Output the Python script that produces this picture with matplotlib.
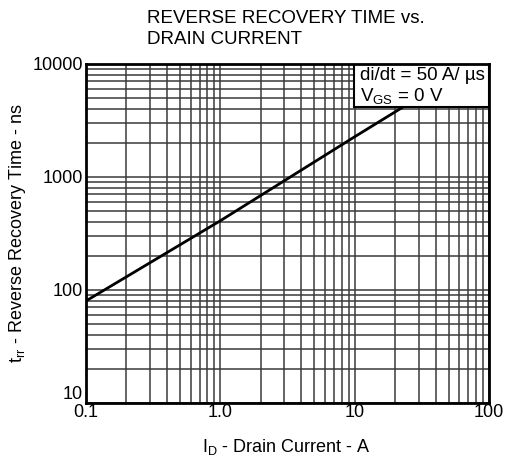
import numpy as np
import matplotlib
matplotlib.use("Agg")
import matplotlib.pyplot as plt
import matplotlib.transforms as mtransforms
from matplotlib.patches import Rectangle
from matplotlib.ticker import FixedLocator, NullFormatter

plt.rcParams['font.family'] = ['Liberation Sans', 'DejaVu Sans']
plt.rcParams['mathtext.fontset'] = 'custom'
plt.rcParams['mathtext.rm'] = 'Liberation Sans'

# data
drain_current = [0.1, 1.0, 10, 23]
trr_ns = [80, 410, 2270, 4170]

x_ticks = [0.1, 1.0, 10, 100]
x_labels = ['0.1', '1.0', '10', '100']
y_ticks = [10, 100, 1000, 10000]
y_labels = ['10', '100', '1000', '10000']

fig = plt.figure(figsize=(5.07, 4.63), dpi=100)
ax = fig.add_axes([0.1696, 0.1296, 0.7949, 0.7322])

ax.set_xscale('log')
ax.set_yscale('log')
ax.set_xlim(0.1, 100)
ax.set_ylim(10, 10000)

ax.set_xticks(x_ticks)
ax.set_xticklabels(x_labels)
ax.set_yticks(y_ticks)
ax.set_yticklabels(y_labels)
minors_x = [m * 10.0 ** e for e in range(-1, 2) for m in range(2, 10)]
minors_y = [m * 10.0 ** e for e in range(1, 4) for m in range(2, 10)]
ax.xaxis.set_minor_locator(FixedLocator(minors_x))
ax.yaxis.set_minor_locator(FixedLocator(minors_y))
ax.xaxis.set_minor_formatter(NullFormatter())
ax.yaxis.set_minor_formatter(NullFormatter())
ax.tick_params(which='both', length=0, labelsize=13, pad=2)
ax.tick_params(axis='x', pad=1)

# the bottom "10" sits raised above the corner, clear of "0.1"
shift = mtransforms.ScaledTranslation(0, 10 / 100, fig.dpi_scale_trans)
lbl10 = ax.get_yticklabels()[0]
lbl10.set_transform(lbl10.get_transform() + shift)

ax.grid(True, which='both', color='#3a3a3a', linewidth=1.1)
for s in ax.spines.values():
    s.set_linewidth(2)
    s.set_zorder(5)

ax.plot(drain_current, trr_ns, color='black', linewidth=2, zorder=3)

ax.add_patch(Rectangle((0.665, 0.873), 0.335, 0.127, transform=ax.transAxes,
                       facecolor='white', edgecolor='black', linewidth=1.5, zorder=4))
ax.text(0.68, 0.965, 'di/dt = 50 A/ \u00b5s', transform=ax.transAxes,
        fontsize=13.5, va='center', ha='left', zorder=6)
ax.text(0.68, 0.905, r'V$\mathregular{_{GS}}$ = 0 V', transform=ax.transAxes,
        fontsize=13.5, va='center', ha='left', zorder=6)

ax.set_xlabel(r'I$\mathregular{_{D}}$ - Drain Current - A', fontsize=13)
ax.xaxis.set_label_coords(0.4975, -0.13)
ax.xaxis.label.set_verticalalignment('center')
ax.set_ylabel(r't$\mathregular{_{rr}}$ - Reverse Recovery Time - ns', fontsize=13)
ax.yaxis.set_label_coords(-0.171, 0.5)
ax.yaxis.label.set_verticalalignment('center')

fig.text(0.29, 0.979, 'REVERSE RECOVERY TIME vs.\nDRAIN CURRENT', fontsize=13.5,
         ha='left', va='top', linespacing=1.3)

fig.savefig('out.png', dpi=100)
